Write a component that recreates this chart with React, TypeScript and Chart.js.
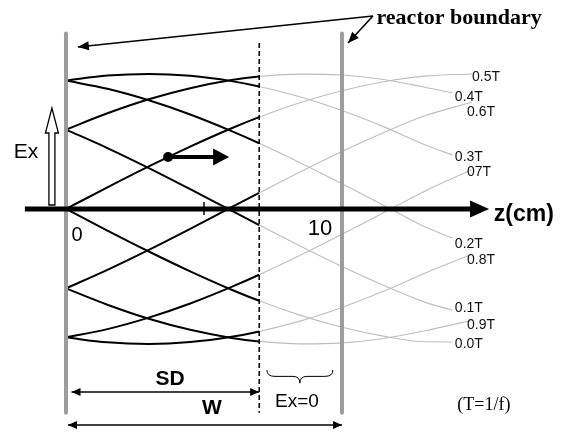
import React, { useEffect, useRef } from 'react';
import { Chart, registerables } from 'chart.js';

Chart.register(...registerables);

// z positions (cm) where the field is read
const zShort = [0, 1.5, 3, 4.5, 6, 7, 8.5, 10, 11.5, 13, 14];
const zLong = [0, 1.5, 3, 4.5, 6, 7, 8.5, 10, 11.5, 13, 14.7];

// phase labels (as printed in the figure)
const phaseLabels = ['0.0T', '0.1T', '0.2T', '0.3T', '0.4T', '0.5T', '0.6T', '07T', '0.8T', '0.9T'];

// Ex (normalised) read for each phase
const ex00 = [0, -0.16, -0.315, -0.462, -0.598, -0.68, -0.788, -0.876, -0.942, -0.984, -0.985];
const ex01 = [0.588, 0.451, 0.303, 0.147, -0.013, -0.119, -0.276, -0.426, -0.565, -0.69, -0.75];
const ex02 = [0.951, 0.89, 0.805, 0.7, 0.577, 0.487, 0.341, 0.187, 0.028, -0.132, -0.215];
const ex03 = [0.951, 0.988, 1.0, 0.986, 0.947, 0.907, 0.829, 0.729, 0.61, 0.476, 0.4];
const ex04 = [0.588, 0.709, 0.813, 0.895, 0.955, 0.981, 0.999, 0.992, 0.959, 0.902, 0.86];
const ex05 = [0, 0.16, 0.315, 0.462, 0.598, 0.68, 0.788, 0.876, 0.942, 0.984, 1.0];
const ex06 = [-0.588, -0.451, -0.303, -0.147, 0.013, 0.119, 0.276, 0.426, 0.565, 0.69, 0.79];
const ex07 = [-0.951, -0.89, -0.805, -0.7, -0.577, -0.487, -0.341, -0.187, -0.028, 0.132, 0.29];
const ex08 = [-0.951, -0.988, -1.0, -0.986, -0.947, -0.907, -0.829, -0.729, -0.61, -0.476, -0.335];
const ex09 = [-0.588, -0.709, -0.813, -0.895, -0.955, -0.981, -0.999, -0.992, -0.959, -0.902, -0.825];

const phaseValues = [ex00, ex01, ex02, ex03, ex04, ex05, ex06, ex07, ex08, ex09];

// geometry of the figure (cm along z)
const SD = 7;
const W = 10;
const axisTicks = [0, 5, 10];

// label anchors [z, value] for the phase labels (left-aligned)
const labelAnchors: [number, number][] = [
  [14.09, -1.0], [14.09, -0.733], [14.09, -0.259], [14.09, 0.385], [14.09, 0.83],
  [14.71, 0.978], [14.53, 0.719], [14.53, 0.274], [14.53, -0.378], [14.53, -0.859],
];

const SANS = '"Liberation Sans", Arial, sans-serif';
const SERIF = '"Liberation Serif", "Times New Roman", serif';

function head(ctx: CanvasRenderingContext2D, x1: number, y1: number, x2: number, y2: number, len: number, half: number) {
  const a = Math.atan2(y2 - y1, x2 - x1);
  const c = Math.cos(a), s = Math.sin(a);
  ctx.beginPath();
  ctx.moveTo(x2, y2);
  ctx.lineTo(x2 - len * c + half * s, y2 - len * s - half * c);
  ctx.lineTo(x2 - len * c - half * s, y2 - len * s + half * c);
  ctx.closePath();
  ctx.fill();
}

const decorPlugin = {
  id: 'decor',
  afterDatasetsDraw(chart: any) {
    const ctx: CanvasRenderingContext2D = chart.ctx;
    const xs = chart.scales.x, ys = chart.scales.y;
    const px = (z: number) => xs.getPixelForValue(z);
    const py = (v: number) => ys.getPixelForValue(v);
    ctx.save();

    // reactor boundaries
    ctx.strokeStyle = '#9c9c9c';
    ctx.lineWidth = 4;
    ctx.lineCap = 'round';
    [0, W].forEach((z) => {
      ctx.beginPath();
      ctx.moveTo(px(z), py(1.3));
      ctx.lineTo(px(z), py(-1.51));
      ctx.stroke();
    });
    ctx.lineCap = 'butt';

    // SD dashed line
    ctx.strokeStyle = '#000';
    ctx.lineWidth = 1.5;
    ctx.setLineDash([5, 3]);
    ctx.beginPath();
    ctx.moveTo(px(SD), py(1.23));
    ctx.lineTo(px(SD), py(-1.51));
    ctx.stroke();
    ctx.setLineDash([]);

    // z axis
    ctx.fillStyle = '#000';
    ctx.lineWidth = 5;
    ctx.beginPath();
    ctx.moveTo(px(-1.49), py(0));
    ctx.lineTo(px(14.7), py(0));
    ctx.stroke();
    head(ctx, px(14), py(0), px(15.33), py(0), 19, 8.5);
    // tick at 5
    ctx.lineWidth = 1.5;
    ctx.beginPath();
    ctx.moveTo(px(axisTicks[1]), py(0) - 7);
    ctx.lineTo(px(axisTicks[1]), py(0) + 6);
    ctx.stroke();

    // Ex hollow arrow
    const ax = px(-0.51);
    const yb = py(0) - 4, yh = py(0.563), yt = py(0.748);
    ctx.beginPath();
    ctx.moveTo(ax - 3, yb);
    ctx.lineTo(ax - 3, yh);
    ctx.lineTo(ax - 6.5, yh);
    ctx.lineTo(ax, yt);
    ctx.lineTo(ax + 6.5, yh);
    ctx.lineTo(ax + 3, yh);
    ctx.lineTo(ax + 3, yb);
    ctx.closePath();
    ctx.fillStyle = '#fff';
    ctx.fill();
    ctx.strokeStyle = '#000';
    ctx.lineWidth = 1.3;
    ctx.stroke();

    // dot with propagation arrow
    ctx.fillStyle = '#000';
    ctx.beginPath();
    ctx.arc(px(3.7), py(0.385), 5, 0, Math.PI * 2);
    ctx.fill();
    ctx.lineWidth = 4;
    ctx.beginPath();
    ctx.moveTo(px(3.7), py(0.385));
    ctx.lineTo(px(5.4), py(0.385));
    ctx.stroke();
    head(ctx, px(5.3), py(0.385), px(5.91), py(0.385), 16, 8.5);

    // reactor boundary pointer arrows
    ctx.lineWidth = 1.6;
    const sx = px(11.12), sy = py(1.43);
    [[0.43, 1.2], [10.22, 1.23]].forEach(([z, v]) => {
      ctx.beginPath();
      ctx.moveTo(sx, sy);
      ctx.lineTo(px(z), py(v));
      ctx.stroke();
      head(ctx, sx, sy, px(z), py(v), 11, 4.5);
    });

    // SD and W dimension arrows
    const dim = (z1: number, z2: number, v: number) => {
      const y = py(v);
      ctx.lineWidth = 1.6;
      ctx.beginPath();
      ctx.moveTo(px(z1), y);
      ctx.lineTo(px(z2), y);
      ctx.stroke();
      head(ctx, px(z2), y, px(z1), y, 9, 4);
      head(ctx, px(z1), y, px(z2), y, 9, 4);
    };
    dim(0.2, SD, -1.356);
    dim(0.07, W, -1.6);

    // brace over Ex=0 region
    const bl = px(7.28), br = px(9.67), bm = (bl + br) / 2;
    const yTop = py(-1.193), yMid = py(-1.24), yTip = py(-1.29);
    ctx.lineWidth = 1;
    ctx.beginPath();
    ctx.moveTo(bl, yTop);
    ctx.quadraticCurveTo(bl, yMid, bl + 8, yMid);
    ctx.lineTo(bm - 7, yMid);
    ctx.quadraticCurveTo(bm, yMid, bm, yTip);
    ctx.quadraticCurveTo(bm, yMid, bm + 7, yMid);
    ctx.lineTo(br - 8, yMid);
    ctx.quadraticCurveTo(br, yMid, br, yTop);
    ctx.stroke();

    // texts
    ctx.fillStyle = '#000';
    ctx.textBaseline = 'middle';
    ctx.textAlign = 'center';
    ctx.font = `20px ${SANS}`;
    ctx.fillText(String(axisTicks[0]), px(0.4), py(-0.193));
    ctx.font = `22px ${SANS}`;
    ctx.fillText(String(axisTicks[2]), px(9.2), py(-0.148));
    ctx.font = `21px ${SANS}`;
    ctx.fillText('Ex', px(-1.45), py(0.42));
    ctx.font = `bold 21px ${SANS}`;
    ctx.fillText('SD', px(3.77), py(-1.26));
    ctx.fillText('W', px(5.29), py(-1.474));
    ctx.font = `19px ${SANS}`;
    ctx.fillText('Ex=0', px(8.37), py(-1.43));
    ctx.font = `18px ${SERIF}`;
    ctx.fillText('(T=1/f)', px(15.14), py(-1.452));
    ctx.textAlign = 'left';
    ctx.font = `bold 23px ${SANS}`;
    ctx.fillText('z(cm)', px(15.5), py(-0.04));
    ctx.font = `bold 22px ${SERIF}`;
    ctx.fillText('reactor boundary', px(11.25), py(1.41));
    ctx.font = `14px ${SANS}`;
    ctx.fillStyle = '#111';
    phaseLabels.forEach((lab, i) => {
      const [z, v] = labelAnchors[i];
      ctx.fillText(lab, px(z), py(v));
    });
    ctx.restore();
  },
};

export default function App() {
  const ref = useRef<HTMLCanvasElement | null>(null);
  useEffect(() => {
    document.body.style.margin = '0';
    if (!ref.current) return;
    const datasets = phaseValues.map((vals, i) => {
      const zs = i < 5 ? zShort : zLong;
      return {
        label: phaseLabels[i],
        data: vals.map((v, k) => ({ x: zs[k], y: v })),
        borderColor: '#000',
        borderWidth: 2,
        pointRadius: 0,
        fill: false,
        cubicInterpolationMode: 'monotone' as const,
        segment: {
          borderColor: (c: any) => (c.p0.parsed.x >= SD - 1e-6 ? '#bdbdbd' : '#000'),
          borderWidth: (c: any) => (c.p0.parsed.x >= SD - 1e-6 ? 1.1 : 2),
        },
      };
    });
    const chart = new Chart(ref.current, {
      type: 'line',
      data: { datasets },
      options: {
        animation: false,
        responsive: false,
        maintainAspectRatio: false,
        layout: { padding: 0 },
        plugins: { legend: { display: false }, tooltip: { enabled: false } },
        scales: {
          x: { type: 'linear', min: -2.391, max: 18.189, display: false },
          y: { type: 'linear', min: -1.652, max: 1.548, display: false },
        },
      },
      plugins: [decorPlugin],
    });
    return () => chart.destroy();
  }, []);
  return (
    <div style={{ width: 568, height: 432, background: '#fff' }}>
      <canvas ref={ref} width={568} height={432} style={{ display: 'block' }} />
    </div>
  );
}
